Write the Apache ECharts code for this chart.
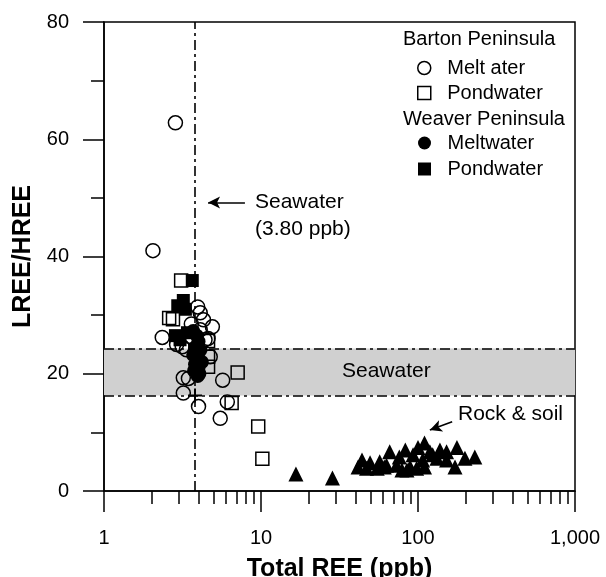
<!DOCTYPE html>
<html>
<head>
<meta charset="utf-8">
<script src="https://cdn.jsdelivr.net/npm/echarts@6/dist/echarts.min.js"></script>
<style>
  html, body { margin: 0; padding: 0; background: #fff; }
  #chart { width: 606px; height: 577px; }
</style>
</head>
<body>
<div id="chart"></div>
<script>
// values: [total REE (ppb), LREE/HREE]
const bartonMeltwater = [
  [2.85, 62.8], [2.05, 41.0], [2.35, 26.2], [3.95, 31.4], [4.1, 30.4], [4.3, 29.2],
  [4.9, 28.0], [2.9, 25.0], [3.15, 24.6], [3.35, 24.1], [4.4, 25.8], [4.6, 26.0],
  [4.75, 22.9], [3.2, 19.3], [3.45, 19.2], [5.7, 18.9], [3.2, 16.7], [4.0, 14.4],
  [6.1, 15.2], [5.5, 12.4], [4.1, 27.5], [3.6, 28.5]
];
const bartonPondwater = [
  [3.1, 35.9], [2.6, 29.5], [2.75, 29.3], [4.6, 25.6], [4.6, 22.9], [4.6, 21.2],
  [7.1, 20.2], [6.5, 15.0], [9.6, 11.0], [10.2, 5.5]
];
const weaverMeltwater = [
  [3.7, 27.3], [3.9, 26.5], [4.0, 25.5], [3.8, 24.5], [4.1, 24.0], [3.7, 23.2],
  [3.9, 22.5], [4.2, 22.0], [3.8, 21.6], [4.0, 21.0], [3.75, 20.5], [4.05, 20.0],
  [3.95, 19.6]
];
const weaverPondwater = [
  [3.65, 35.9], [3.2, 32.5], [2.95, 31.6], [3.3, 31.0], [2.85, 26.5], [3.05, 25.8], [3.4, 27.0]
];
const rockSoil = [
  [16.7, 2.9], [28.5, 2.2], [44, 5.3], [41.5, 4.1], [49.5, 4.8], [57, 5.0], [63, 4.4],
  [66, 6.7], [76, 5.8], [79, 3.6], [83, 7.0], [89, 4.1], [93, 6.2], [100, 7.4],
  [110, 8.2], [107, 5.3], [110, 4.1], [119, 6.7], [124, 6.2], [138, 7.0], [152, 6.7],
  [177, 7.4], [172, 4.1], [199, 5.6], [230, 5.8], [73, 4.4], [85, 3.6], [98, 3.9],
  [47, 3.9], [55, 3.9], [61, 4.1], [152, 5.3], [132, 5.6]
];
const seawaterPoint = [[3.8, 16.3]];

const seawaterREE = 3.8;          // vertical reference line
const seawaterBand = [16.3, 24.3]; // LREE/HREE range of seawater
const seawaterArrow = [[7.9, 49.2], [4.6, 49.2]];
const rockArrow = [[165, 11.8], [119, 10.4]];

const xMajorTicks = [1, 10, 100, 1000];
const xMinorTicks = [2, 3, 4, 5, 6, 7, 8, 9, 20, 30, 40, 50, 60, 70, 80, 90,
  200, 300, 400, 500, 600, 700, 800, 900];

const legendNames = {
  'Barton meltwater': 'Melt ater',
  'Barton pondwater': 'Pondwater',
  'Weaver meltwater': 'Meltwater',
  'Weaver pondwater': 'Pondwater'
};

const FONT = "'Liberation Sans', Arial, sans-serif";
const SQUARE = 'path://M0,0H10V10H0Z';
const openStyle = { color: 'rgba(0,0,0,0)', borderColor: '#000', borderWidth: 1.5, opacity: 1 };
const fillStyle = { color: '#000', opacity: 1 };
const dashDot = { color: '#000', width: 1.6, type: [10, 4, 3, 4] };
const textStyle = { fontSize: 21, fill: '#000', fontFamily: FONT };

const chart = echarts.init(document.getElementById('chart'));

chart.setOption({
  animation: false,
  backgroundColor: '#fff',
  textStyle: { fontFamily: FONT },
  grid: {
    left: 104, right: 31, top: 22, bottom: 86,
    outerBoundsMode: 'none', containLabel: false,
    show: true, borderColor: '#000', borderWidth: 1.5, backgroundColor: 'transparent'
  },
  xAxis: [
    {
      type: 'log', logBase: 10, min: 1, max: 1000,
      name: 'Total REE (ppb)', nameLocation: 'middle', nameGap: 66,
      nameTextStyle: { fontSize: 25, fontWeight: 'bold', color: '#000', fontFamily: FONT },
      axisLine: { lineStyle: { color: '#000', width: 1.5 } },
      axisTick: { customValues: xMajorTicks, length: 21, lineStyle: { color: '#000', width: 1.5 } },
      axisLabel: {
        customValues: xMajorTicks, margin: 37, fontSize: 20, color: '#000', fontFamily: FONT,
        formatter: v => String(Math.round(v)).replace(/\B(?=(\d{3})+(?!\d))/g, ',')
      },
      splitLine: { show: false }
    },
    {
      type: 'log', logBase: 10, min: 1, max: 1000, position: 'bottom',
      axisLine: { show: false },
      axisTick: { customValues: xMinorTicks, length: 13, lineStyle: { color: '#000', width: 1.5 } },
      axisLabel: { show: false },
      splitLine: { show: false }
    }
  ],
  yAxis: {
    type: 'value', min: 0, max: 80, interval: 20,
    name: 'LREE/HREE', nameLocation: 'middle', nameGap: 68,
    nameTextStyle: { fontSize: 25, fontWeight: 'bold', color: '#000', fontFamily: FONT },
    axisLine: { show: true, lineStyle: { color: '#000', width: 1.5 } },
    axisTick: { show: true, length: 21, lineStyle: { color: '#000', width: 1.5 } },
    minorTick: { show: true, splitNumber: 2, length: 13, lineStyle: { color: '#000', width: 1.5 } },
    axisLabel: { margin: 35, fontSize: 20, color: '#000', fontFamily: FONT },
    splitLine: { show: false }
  },
  legend: [
    {
      left: 412, top: 53, orient: 'vertical', itemWidth: 36, itemHeight: 13, itemGap: 5,
      selectedMode: false, symbolKeepAspect: true, formatter: n => legendNames[n],
      textStyle: { fontSize: 20, color: '#000', fontFamily: FONT },
      data: [
        { name: 'Barton meltwater', icon: 'circle', itemStyle: openStyle },
        { name: 'Barton pondwater', icon: SQUARE, itemStyle: openStyle }
      ]
    },
    {
      left: 413, top: 128, orient: 'vertical', itemWidth: 36, itemHeight: 13, itemGap: 6,
      selectedMode: false, symbolKeepAspect: true, formatter: n => legendNames[n],
      textStyle: { fontSize: 20, color: '#000', fontFamily: FONT },
      data: [
        { name: 'Weaver meltwater', icon: 'circle', itemStyle: fillStyle },
        { name: 'Weaver pondwater', icon: SQUARE, itemStyle: fillStyle }
      ]
    }
  ],
  graphic: [
    { type: 'text', z: 100, left: 403, top: 29, style: { text: 'Barton Peninsula', fontSize: 20, fill: '#000', fontFamily: FONT } },
    { type: 'text', z: 100, left: 403, top: 109, style: { text: 'Weaver Peninsula', fontSize: 20, fill: '#000', fontFamily: FONT } },
    { type: 'text', z: 100, left: 255, top: 192, style: Object.assign({ text: 'Seawater' }, textStyle) },
    { type: 'text', z: 100, left: 255, top: 219, style: Object.assign({ text: '(3.80 ppb)' }, textStyle) },
    { type: 'text', z: 100, left: 342, top: 361, style: Object.assign({ text: 'Seawater' }, textStyle) },
    { type: 'text', z: 100, left: 458, top: 404, style: Object.assign({ text: 'Rock & soil' }, textStyle) }
  ],
  series: [
    {
      name: 'refs', type: 'scatter', data: [], z: 1, silent: true,
      markArea: {
        silent: true,
        itemStyle: { color: '#d0d0d0' },
        data: [[{ yAxis: seawaterBand[0] }, { yAxis: seawaterBand[1] }]]
      },
      markLine: {
        silent: true, symbol: ['none', 'none'], label: { show: false },
        lineStyle: dashDot,
        data: [
          { xAxis: seawaterREE },
          { yAxis: seawaterBand[0] },
          { yAxis: seawaterBand[1] }
        ]
      }
    },
    {
      name: 'arrows', type: 'scatter', data: [], z: 2, silent: true,
      markLine: {
        silent: true, symbol: ['none', 'arrow'], symbolSize: [9, 12], label: { show: false },
        lineStyle: { color: '#000', width: 1.6, type: 'solid' },
        data: [
          [{ coord: seawaterArrow[0] }, { coord: seawaterArrow[1] }],
          [{ coord: rockArrow[0] }, { coord: rockArrow[1] }]
        ]
      }
    },
    {
      name: 'Barton meltwater', type: 'scatter', z: 3, data: bartonMeltwater,
      symbol: 'circle', symbolSize: 14, itemStyle: openStyle
    },
    {
      name: 'Barton pondwater', type: 'scatter', z: 3, data: bartonPondwater,
      symbol: 'rect', symbolSize: 13, itemStyle: openStyle
    },
    {
      name: 'Weaver pondwater', type: 'scatter', z: 4, data: weaverPondwater,
      symbol: 'rect', symbolSize: 13, itemStyle: fillStyle
    },
    {
      name: 'Weaver meltwater', type: 'scatter', z: 4, data: weaverMeltwater,
      symbol: 'circle', symbolSize: 14, itemStyle: fillStyle
    },
    {
      name: 'Seawater point', type: 'scatter', z: 4, data: seawaterPoint,
      symbol: 'path://M4.3,0H5.7V4.3H10V5.7H5.7V10H4.3V5.7H0V4.3H4.3Z', symbolSize: 14,
      itemStyle: fillStyle
    },
    {
      name: 'Rock & soil', type: 'scatter', z: 4, data: rockSoil,
      symbol: 'triangle', symbolSize: 15, itemStyle: fillStyle
    }
  ]
});
</script>
</body>
</html>
